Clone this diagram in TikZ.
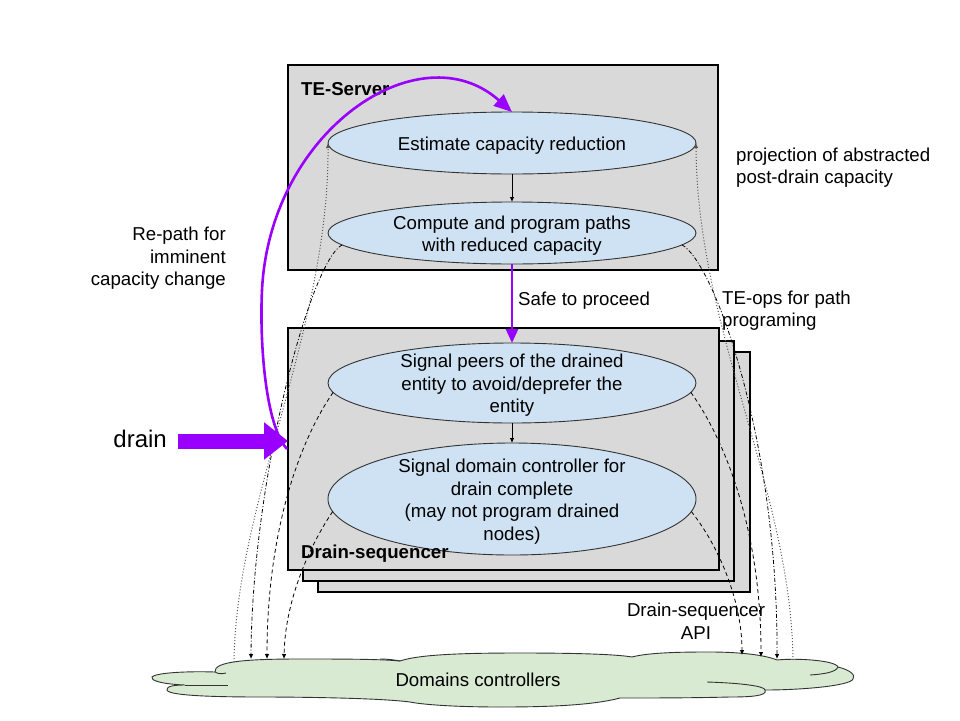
\documentclass[tikz,border=0pt]{standalone}
\usepackage{fontspec}
\setmainfont{Liberation Sans}
\usetikzlibrary{arrows.meta,shapes.geometric}
\definecolor{boxgray}{HTML}{D9D9D9}
\definecolor{ellblue}{HTML}{CFE2F3}
\definecolor{cloudgreen}{HTML}{D9EAD3}
\definecolor{purp}{HTML}{9900FF}
\definecolor{ellline}{HTML}{333333}
\definecolor{dotgray}{HTML}{555555}
\tikzset{
  boxnode/.style={draw=black, line width=1.3pt, fill=boxgray, inner sep=0pt, outer sep=0pt, anchor=north west},
  proc/.style={ellipse, draw=ellline, line width=0.9pt, fill=ellblue, minimum width=368pt, inner sep=0pt, outer sep=0pt},
  txt/.style={font=\fontsize{18.67pt}{22.6pt}\selectfont, align=center, inner sep=0pt, yshift=-2.5pt},
  btxt/.style={font=\fontsize{18.67pt}{22pt}\selectfont\bfseries, inner sep=0pt, anchor=west, yshift=-1.5pt},
  smalltip/.style={-{Latex[length=5pt,width=4.5pt]}},
  projl/.style={draw=dotgray, line width=1pt, dash pattern=on 1pt off 2pt},
  opsl/.style={draw=black, line width=0.8pt, dash pattern=on 4pt off 2pt on 1pt off 2pt},
  apil/.style={draw=black, line width=0.8pt, dash pattern=on 4pt off 3pt},
  purpline/.style={draw=purp, line width=2.6pt},
}
\begin{document}
\begin{tikzpicture}[x=1pt,y=-1pt]
\useasboundingbox (0,0) rectangle (960,720);
\fill[white] (0,0) rectangle (960,720);

% TE-Server box
\node[boxnode, minimum width=430pt, minimum height=205pt] (te) at (288,65) {};
\node[btxt] (telbl) at (301,88) {TE-Server};

% Drain-sequencer stacked boxes
\node[boxnode, minimum width=432pt, minimum height=240pt] (ds3) at (318,352) {};
\node[boxnode, minimum width=431pt, minimum height=240pt] (ds2) at (303,341) {};
\node[boxnode, minimum width=431pt, minimum height=242pt] (ds1) at (288,328) {};

% ellipses
\node[proc, minimum height=62pt] (est) at (512,143) {};
\node[txt] at (est) {Estimate capacity reduction};
\node[proc, minimum height=62pt] (cmp) at (512,233) {};
\node[txt] at (cmp) {Compute and program paths\\with reduced capacity};
\node[proc, minimum height=80pt] (peers) at (512,383) {};
\node[txt] at (peers) {Signal peers of the drained\\entity to avoid/deprefer the\\entity};
\node[proc, minimum height=112pt] (dom) at (512,499) {};
\node[txt] at (dom) {Signal domain controller for\\drain complete\\(may not program drained\\nodes)};
\node[btxt] (dslbl) at (301,552) {Drain-sequencer};

\draw[line width=0.8pt, smalltip] (est) -- (cmp);
\draw[line width=0.8pt, smalltip] (peers) -- (dom);

% cloud
\path[fill=cloudgreen, draw=ellline, line width=0.9pt]
  (215,672) .. controls (213,661) and (250,659) .. (300,659)
  .. controls (340,659) and (380,659) .. (400,661)
  .. controls (420,654) and (470,653) .. (520,653)
  .. controls (570,653) and (615,654) .. (632,657)
  .. controls (650,652) and (690,652) .. (710,652)
  .. controls (740,652) and (765,655) .. (777,660)
  .. controls (795,658) and (835,660) .. (838,667)
  .. controls (850,670) and (856,675) .. (853,679)
  .. controls (850,686) and (800,690) .. (765,690)
  .. controls (768,696) and (750,697) .. (730,697)
  .. controls (690,698) and (650,698) .. (620,698)
  .. controls (590,706) and (540,707) .. (500,707)
  .. controls (460,707) and (425,705) .. (410,702)
  .. controls (380,698) and (300,697) .. (262,697)
  .. controls (220,697) and (168,696) .. (167,690)
  .. controls (166,686) and (175,685) .. (185,685)
  .. controls (160,684) and (150,680) .. (152,677)
  .. controls (155,673) and (185,671) .. (215,672) -- cycle;
\draw[ellline, line width=0.9pt] (215,672) .. controls (218,674) and (222,674) .. (226,673);
\draw[ellline, line width=0.9pt] (185,685) .. controls (200,685) and (215,685) .. (228,685);
\draw[ellline, line width=0.9pt] (380,659) .. controls (388,659) and (395,660) .. (400,661);
\draw[ellline, line width=0.9pt] (838,667) .. controls (836,672) and (825,674) .. (810,675);
\draw[ellline, line width=0.9pt] (707,682) .. controls (740,683) and (765,686) .. (765,690);
\node[txt] (dc) at (478,677) {Domains controllers};

\coordinate (cl1) at (234,662);
\coordinate (cl2) at (251,659);
\coordinate (cl3) at (267,659);
\coordinate (cl4) at (284,659);
\coordinate (cr1) at (742,655);
\coordinate (cr2) at (761,657);
\coordinate (cr3) at (777,659);
\coordinate (cr4) at (793,660);

% connectors left
\draw[projl, smalltip] (cl1) .. controls (236,500) and (329,330) .. (est.west);
\draw[opsl, smalltip] (cmp.184) .. controls (310,262) and (252,480) .. (cl2);
\draw[apil, smalltip] (peers.183) .. controls (300,440) and (267,530) .. (cl3);
\draw[apil, smalltip] (dom.184) .. controls (310,545) and (285,600) .. (cl4);
% connectors right
\draw[projl, smalltip] (cr4) .. controls (791,490) and (697,330) .. (est.east);
\draw[opsl, smalltip] (cmp.-4) .. controls (714,262) and (778,440) .. (cr3);
\draw[apil, smalltip] (peers.-3) .. controls (725,440) and (761,530) .. (cr2);
\draw[apil, smalltip] (dom.-4) .. controls (718,545) and (742,600) .. (cr1);

% labels
\node[txt, anchor=east, align=right] (repath) at (226,256) {Re-path for\\imminent\\capacity change};
\node[txt, anchor=west, align=left] (proj) at (736,165) {projection of abstracted\\post-drain capacity};
\node[txt, anchor=west, align=left] (teops) at (722,308) {TE-ops for path\\programing};
\node[txt] (api) at (696,619) {Drain-sequencer\\API};
\node[txt, anchor=west] (safe) at (518,298) {Safe to proceed};

% purple arrows
\draw[purpline, -{Triangle[length=14pt,width=12pt]}] (cmp) -- (peers);
\node[font=\fontsize{24pt}{28pt}\selectfont, inner sep=0pt, anchor=east] (drainlbl) at (167,439) {drain};
\coordinate (dstart) at (178,441);
\draw[draw=purp, line width=15pt, -{Triangle[length=24pt,width=36pt]}] (dstart) -- (dstart -| ds1.west);
\coordinate (rp0) at (287,449);
\draw[purpline, -{Triangle[length=18pt,width=15pt]}] (rp0) .. controls (265,425) and (259.5,340) .. (262,290)
  .. controls (270,130) and (420,30) .. (est.north);
\end{tikzpicture}
\end{document}
